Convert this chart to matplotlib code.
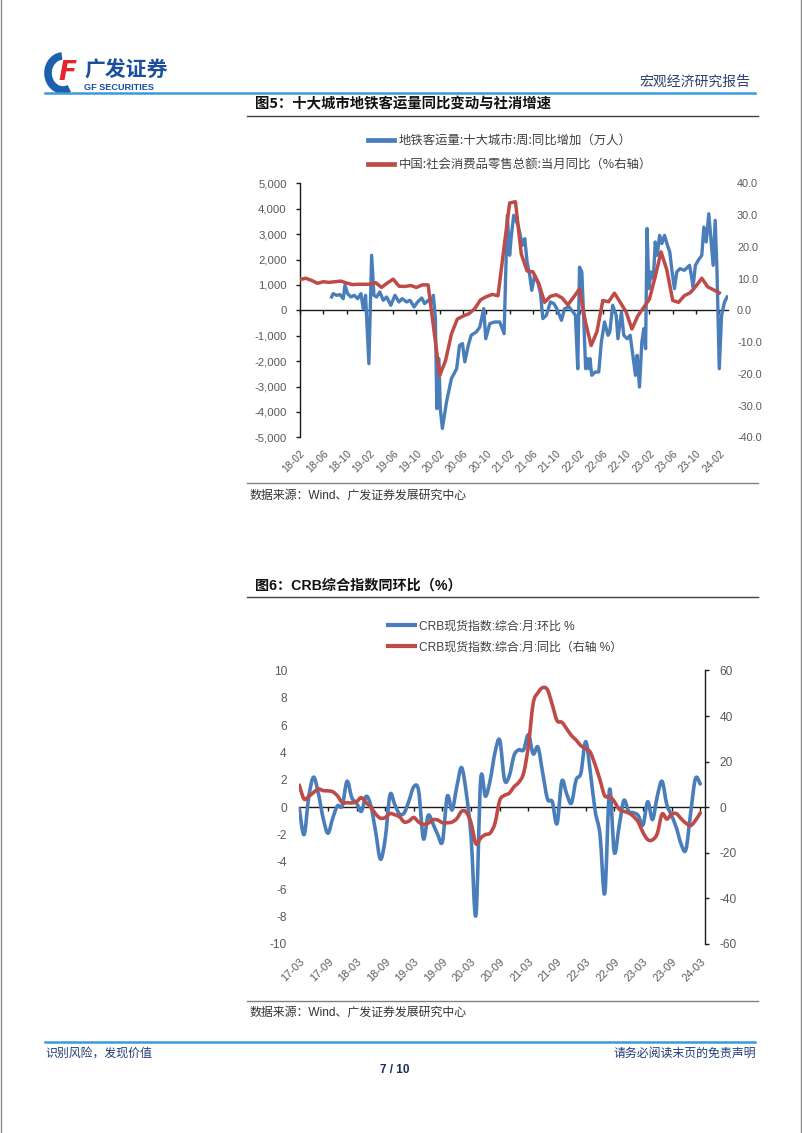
import numpy as np
import matplotlib
matplotlib.use('Agg')
import matplotlib.pyplot as plt
from matplotlib.path import Path
from matplotlib.patches import PathPatch, Arc
from matplotlib.lines import Line2D
from matplotlib.ticker import FuncFormatter, MultipleLocator

plt.rcParams['font.family'] = ['Liberation Sans', 'Noto Sans CJK SC', 'DejaVu Sans']
plt.rcParams['axes.unicode_minus'] = False

# ---------------- data: figure 5 ----------------
# weekly metro ridership yoy change (10k persons), x in months since 2018-02
metro_t = [5.43, 5.7, 6.29, 6.86, 7.43, 7.72, 8.18, 8.75, 9.32, 9.9, 10.46, 10.86, 11.26, 11.83,
           12.3, 12.7, 13.15, 13.7, 14.3, 14.87, 15.6, 16.3, 17.0, 17.55, 18.3, 18.9, 19.6, 20.2,
           20.9, 21.4, 22.0, 22.6, 22.9, 23.25, 23.5, 23.85, 24.1, 24.45, 25.16, 26.0, 26.9, 27.4,
           27.9, 28.3, 28.9, 29.4, 30.3, 30.87, 31.55, 31.9, 32.6, 33.4, 34.3, 35.05, 35.6, 36.0,
           36.3, 36.7, 37.45, 38.2, 38.6, 39.0, 39.45, 39.8, 40.3, 40.9, 41.3, 41.7, 42.3, 43.0,
           43.6, 44.1, 44.9, 45.45, 46.2, 46.9, 47.3, 47.7, 48.0, 48.4, 48.7, 49.05, 49.3, 49.6,
           49.8, 50.1, 50.7, 51.3, 51.75, 52.3, 52.9, 53.2, 53.7, 54.3, 54.6, 55.2, 55.6, 56.2,
           56.7, 57.2, 57.6, 57.9, 58.3, 58.7, 59.05, 59.35, 59.6, 59.9, 60.3, 60.7, 61.0, 61.35,
           61.75, 62.15, 62.6, 63.1, 63.5, 63.9, 64.3, 64.7, 65.25, 66.0, 66.9, 67.2, 67.5, 67.9,
           68.4, 69.0, 69.35, 69.75, 70.2, 70.6, 70.95, 71.3, 71.6, 72.0, 72.4, 72.9, 73.35]
metro_chg = [525, 656, 590, 617, 459, 984, 656, 525, 590, 459, 656, 66, 590, -2100,
             2165, 590, 525, 722, 394, 525, 197, 590, 328, 459, 328, 394, 131, 328,
             485, 262, 394, 262, 590, -300, -3870, -1900, -3900, -4650, -3610, -2690, -2300, -1380,
             -1310, -2030, -1380, -980, -850, -660, 66, -1120, -525, -460, -460, -920, 3740, 2165,
             2950, 3740, 3350, 2560, 2820, 1900, 1380, 787, 1380, 1050, 656, -328, -197, 328,
             262, 66, -394, 66, 131, -66, -197, -2300, 1700, 1510, -197, -2300, -1900, -2300,
             -1900, -2560, -2430, -2430, -1250, -460, -985, -850, 197, -197, -1120, -66, -985, -1120,
             -985, -1840, -2560, -1770, -3020, -1250, -720, -1510, 3220, 853, 1510, 1250, 2690, 2165,
             2950, 2630, 2950, 2560, 2300, 1510, 853, 1510, 1640, 1575, 1770, 1380, 920, 1770,
             1970, 2165, 3280, 2690, 3800, 2690, 1770, 3540, 1640, -2300, -197, 328, 525]

# monthly retail sales yoy (%), January merged into February
retail_dates = ['2018-02', '2018-03', '2018-04', '2018-05', '2018-06', '2018-07', '2018-08', '2018-09',
                '2018-10', '2018-11', '2018-12',
                '2019-02', '2019-03', '2019-04', '2019-05', '2019-06', '2019-07', '2019-08', '2019-09',
                '2019-10', '2019-11', '2019-12',
                '2020-02', '2020-03', '2020-04', '2020-05', '2020-06', '2020-07', '2020-08', '2020-09',
                '2020-10', '2020-11', '2020-12',
                '2021-02', '2021-03', '2021-04', '2021-05', '2021-06', '2021-07', '2021-08', '2021-09',
                '2021-10', '2021-11', '2021-12',
                '2022-02', '2022-03', '2022-04', '2022-05', '2022-06', '2022-07', '2022-08', '2022-09',
                '2022-10', '2022-11', '2022-12',
                '2023-02', '2023-03', '2023-04', '2023-05', '2023-06', '2023-07', '2023-08', '2023-09',
                '2023-10', '2023-11', '2023-12',
                '2024-02']
retail_yoy = [9.7, 10.1, 9.4, 8.5, 9.0, 8.8, 9.0, 9.2, 8.6, 8.1, 8.2,
              8.2, 8.7, 7.2, 8.6, 9.8, 7.6, 7.5, 7.8, 7.2, 8.0, 8.0,
              -20.5, -15.8, -7.5, -2.8, -1.8, -1.1, 0.5, 3.3, 4.3, 5.0, 4.6,
              33.8, 34.2, 17.7, 12.4, 12.1, 8.5, 2.5, 4.4, 4.9, 3.9, 1.7,
              6.7, -3.5, -11.1, -6.7, 3.1, 2.7, 5.4, 2.5, -0.5, -5.9, -1.8,
              3.5, 10.6, 18.4, 12.7, 3.1, 2.5, 4.6, 5.5, 7.6, 10.1, 7.4,
              5.5]
fig5_ticks = ['18-02', '18-06', '18-10', '19-02', '19-06', '19-10', '20-02', '20-06', '20-10',
              '21-02', '21-06', '21-10', '22-02', '22-06', '22-10', '23-02', '23-06', '23-10', '24-02']

# ---------------- data: figure 6 ----------------
# monthly, 2017-03 .. 2024-03
crb_mom = [-0.1, -2.0, 0.8, 2.2, 1.0, -0.8, -1.9, -0.8, 0.1, 0.1, 1.9, 0.7, 0.3, -0.3, 0.8,
           0.1, -1.8, -3.8, -2.3, 0.9, 0.2, -0.5, -0.4, 0.5, 1.5, 1.2, -2.3, -0.6, -1.2, -2.0,
           -2.5, 0.8, -0.2, 1.5, 2.9, 1.0, -2.2, -7.9, 2.0, 0.8, 2.0, 4.0, 4.9, 2.0, 2.3,
           3.8, 4.2, 4.2, 5.3, 3.9, 4.4, 2.5, 0.6, 0.4, -1.2, 1.9, 1.0, 0.3, 2.0, 2.5,
           4.8, 2.5, -0.3, -2.0, -6.3, 1.3, -3.3, -1.4, 0.5, -0.3, -0.4, -0.6, -1.3, 0.4, -0.9,
           0.8, 1.9, 0.2, -0.6, -1.5, -2.7, -3.1, -0.4, 2.1, 1.7]
crb_yoy = [9.7, 3.6, 4.8, 6.5, 8.0, 7.3, 7.2, 6.8, 5.0, 2.0, 2.0, 1.9, 2.5, 4.2, 2.0,
           0.0, -3.0, -4.8, -4.5, -2.8, -3.3, -4.2, -6.5, -6.0, -4.5, -6.5, -7.5, -7.0, -5.5, -5.6,
           -6.8, -6.8, -6.5, -5.0, -1.8, -2.2, -7.0, -16.0, -13.5, -12.0, -11.3, -7.0, 3.0, 5.2, 6.2,
           9.0, 11.0, 15.0, 27.0, 45.6, 50.2, 52.5, 51.5, 45.0, 38.0, 37.3, 34.5, 31.5, 29.5, 27.0,
           25.8, 24.0, 18.5, 12.0, 5.0, 4.8, 2.5, -0.8, -1.8, -2.5, -4.0, -6.5, -11.0, -14.2, -14.3,
           -11.5, -3.0, -5.2, -3.0, -2.8, -5.0, -7.0, -8.0, -5.8, -2.5]
fig6_ticks = ['17-03', '17-09', '18-03', '18-09', '19-03', '19-09', '20-03', '20-09',
              '21-03', '21-09', '22-03', '22-09', '23-03', '23-09', '24-03']

BLUE = '#4A7EBB'
RED = '#BE4B48'
GRAY = '#595959'
NAVY = '#1F3C78'

W, H = 802, 1133
fig = plt.figure(figsize=(W / 100, H / 100), dpi=100)


def fx(x):
    return x / W


def fy(y):
    return 1 - y / H


def hline(x0, x1, y, color, lw):
    fig.add_artist(Line2D([fx(x0), fx(x1)], [fy(y), fy(y)], transform=fig.transFigure,
                          color=color, lw=lw))


def smooth_path(x, y, t=1 / 6):
    # excel-like smoothed line, catmull-rom segments as cubic bezier
    n = len(x)
    verts = [(x[0], y[0])]
    codes = [Path.MOVETO]
    for i in range(n - 1):
        a = max(i - 1, 0)
        d = min(i + 2, n - 1)
        c1 = (x[i] + (x[i + 1] - x[a]) * t, y[i] + (y[i + 1] - y[a]) * t)
        c2 = (x[i + 1] - (x[d] - x[i]) * t, y[i + 1] - (y[d] - y[i]) * t)
        verts += [c1, c2, (x[i + 1], y[i + 1])]
        codes += [Path.CURVE4] * 3
    return Path(verts, codes)


# ---------------- page decoration ----------------
fig.add_artist(Line2D([fx(0.8), fx(0.8)], [0, 1], transform=fig.transFigure, color='#8C8C8C', lw=1))
fig.add_artist(Line2D([fx(801.2), fx(801.2)], [0, 1], transform=fig.transFigure, color='#8C8C8C', lw=1))

# logo
fig.add_artist(Arc((fx(63), fy(73)), 30 / W, 34 / H, theta1=95, theta2=300,
                   transform=fig.transFigure, color='#1B5FAE', lw=5.5))
fig.text(fx(67), fy(73), 'F', color='#E4262B', fontsize=19, fontweight='bold', style='italic',
         ha='center', va='center', family='DejaVu Sans')
fig.text(fx(84), fy(70), '广发证券', color='#1B4E9B', fontsize=15, fontweight='bold',
         ha='left', va='center', family=['Noto Sans CJK SC'])
fig.text(fx(84), fy(87), 'GF SECURITIES', color='#1B4E9B', fontsize=6.6, fontweight='bold',
         ha='left', va='center')
fig.text(fx(750), fy(82), '宏观经济研究报告', color='#2E3F6E', fontsize=10,
         ha='right', va='center', family=['Noto Sans CJK SC'])
hline(45, 755, 92.5, '#3A9AD9', 1.8)

# footer
hline(45, 755, 1041.5, '#3A9AD9', 1.8)
fig.text(fx(45), fy(1053.5), '识别风险，发现价值', color=NAVY, fontsize=8.6,
         ha='left', va='center', family=['Noto Sans CJK SC'])
fig.text(fx(756), fy(1053.5), '请务必阅读末页的免责声明', color=NAVY, fontsize=8.6,
         ha='right', va='center', family=['Noto Sans CJK SC'])
fig.text(fx(395), fy(1070), '7 / 10', color='#1A2C55', fontsize=8.5, fontweight='bold',
         ha='center', va='center')

# ---------------- figure 5 ----------------
fig.text(fx(255), fy(104), '图5：十大城市地铁客运量同比变动与社消增速', fontsize=10.4, fontweight='bold',
         ha='left', va='center', color='#111111', family=['Noto Sans CJK SC'])
hline(247, 758, 116, '#404040', 1.0)
hline(247, 758, 483, '#808080', 1.0)
fig.text(fx(250), fy(495.5), '数据来源：Wind、广发证券发展研究中心', fontsize=8.6, color='#333333',
         ha='left', va='center')

ax = fig.add_axes([fx(300), fy(437.3), (728 - 300) / W, (437.3 - 183.3) / H])
ax2 = ax.twinx()
retail_t = [(int(d[:4]) - 2018) * 12 + int(d[5:]) - 2 for d in retail_dates]

ax.plot(metro_t, metro_chg, color=BLUE, lw=2.4, zorder=3, solid_joinstyle='round')
ax2.plot(retail_t, retail_yoy, color=RED, lw=2.5, zorder=3, solid_joinstyle='round')

ax.set_xlim(0, 73.5)
ax.set_ylim(-5000, 5000)
ax2.set_ylim(-40, 40)
ax.yaxis.set_major_locator(MultipleLocator(1000))
ax.yaxis.set_major_formatter(FuncFormatter(lambda v, p: f'{int(round(v)):,}'))
ax2.yaxis.set_major_locator(MultipleLocator(10))
ax2.yaxis.set_major_formatter(FuncFormatter(lambda v, p: f'{v:.1f}'))

for s in ['top', 'right']:
    ax.spines[s].set_visible(False)
for s in ax2.spines.values():
    s.set_visible(False)
ax.spines['bottom'].set_position(('data', 0))
ax.spines['bottom'].set_color('#1A1A1A')
ax.spines['left'].set_color('#1A1A1A')
ax.spines['bottom'].set_linewidth(1.0)
ax.spines['left'].set_linewidth(1.0)
ax.set_xticks(range(0, 73, 4))
ax.tick_params(axis='x', labelbottom=False, direction='out', length=3, width=1, color='#1A1A1A')
ax.tick_params(axis='y', direction='out', length=3, width=1, color='#1A1A1A', pad=6.5,
               labelsize=8.2, labelcolor=GRAY)
ax2.tick_params(axis='y', length=0, pad=6.5, labelsize=7.8, labelcolor=GRAY)

sec = ax.secondary_xaxis('bottom')
sec.set_xticks(range(0, 73, 4), fig5_ticks, rotation=45, ha='right', va='top',
               rotation_mode='anchor')
sec.tick_params(length=0, pad=8, labelsize=7.5, labelcolor=GRAY)
sec.spines['bottom'].set_visible(False)

h1 = [Line2D([], [], color=BLUE, lw=3.4), Line2D([], [], color=RED, lw=3.4)]
fig.legend(h1, ['地铁客运量:十大城市:周:同比增加（万人）', '中国:社会消费品零售总额:当月同比（%右轴）'],
           loc='upper left', bbox_to_anchor=(fx(368), fy(134.5)), frameon=False, borderpad=0,
           borderaxespad=0, handlelength=2.1, handletextpad=0.4, labelspacing=0.85,
           prop={'family': ['Noto Sans CJK SC', 'DejaVu Sans'], 'size': 8.9}, labelcolor='#404040')

# ---------------- figure 6 ----------------
fig.text(fx(255), fy(586), '图6：CRB综合指数同环比（%）', fontsize=10.2, fontweight='bold',
         ha='left', va='center', color='#111111')
hline(247, 758, 597, '#404040', 1.0)
hline(247, 758, 1001, '#808080', 1.0)
fig.text(fx(250), fy(1012.5), '数据来源：Wind、广发证券发展研究中心', fontsize=8.6, color='#333333',
         ha='left', va='center')

bx = fig.add_axes([fx(299.3), fy(944), (705 - 299.3) / W, (944 - 670.5) / H])
bx2 = bx.twinx()
crb_t = np.arange(len(crb_mom))
bx.add_patch(PathPatch(smooth_path(crb_t, crb_mom), fill=False, edgecolor=BLUE, lw=2.6,
                       zorder=3, capstyle='round', joinstyle='round'))
bx2.add_patch(PathPatch(smooth_path(crb_t, crb_yoy), fill=False, edgecolor=RED, lw=2.6,
                        zorder=3, capstyle='round', joinstyle='round'))

bx.set_xlim(0, 85)
bx.set_ylim(-10, 10)
bx2.set_ylim(-60, 60)
bx.yaxis.set_major_locator(MultipleLocator(2))
bx.yaxis.set_major_formatter(FuncFormatter(lambda v, p: f'{int(round(v))}'))
bx2.yaxis.set_major_locator(MultipleLocator(20))
bx2.yaxis.set_major_formatter(FuncFormatter(lambda v, p: f'{int(round(v))}'))

for s in ['top', 'right', 'left']:
    bx.spines[s].set_visible(False)
for s in ['top', 'left', 'bottom']:
    bx2.spines[s].set_visible(False)
bx2.spines['right'].set_color('#1A1A1A')
bx2.spines['right'].set_linewidth(1.0)
bx.spines['bottom'].set_position(('data', 0))
bx.spines['bottom'].set_color('#1A1A1A')
bx.spines['bottom'].set_linewidth(1.0)
bx.set_xticks(range(0, 85, 6))
bx.tick_params(axis='x', labelbottom=False, direction='out', length=3, width=1, color='#1A1A1A')
bx.tick_params(axis='y', length=0, pad=9, labelsize=8.6, labelcolor=GRAY)
bx2.tick_params(axis='y', direction='out', length=3, width=1, color='#1A1A1A', pad=7.5,
                labelsize=8.6, labelcolor=GRAY)

sec2 = bx.secondary_xaxis('bottom')
sec2.set_xticks(range(0, 85, 6), fig6_ticks, rotation=45, ha='right', va='top',
                rotation_mode='anchor')
sec2.tick_params(length=0, pad=9, labelsize=7.9, labelcolor=GRAY)
sec2.spines['bottom'].set_visible(False)

h2 = [Line2D([], [], color=BLUE, lw=3.0), Line2D([], [], color=RED, lw=3.0)]
fig.legend(h2, ['CRB现货指数:综合:月:环比 %', 'CRB现货指数:综合:月:同比（右轴 %）'],
           loc='upper left', bbox_to_anchor=(fx(388), fy(620.5)), frameon=False, borderpad=0,
           borderaxespad=0, handlelength=2.3, handletextpad=0.3, labelspacing=0.75,
           prop={'family': ['Liberation Sans', 'Noto Sans CJK SC'], 'size': 8.6}, labelcolor='#404040')

fig.savefig('out.png', dpi=100)
